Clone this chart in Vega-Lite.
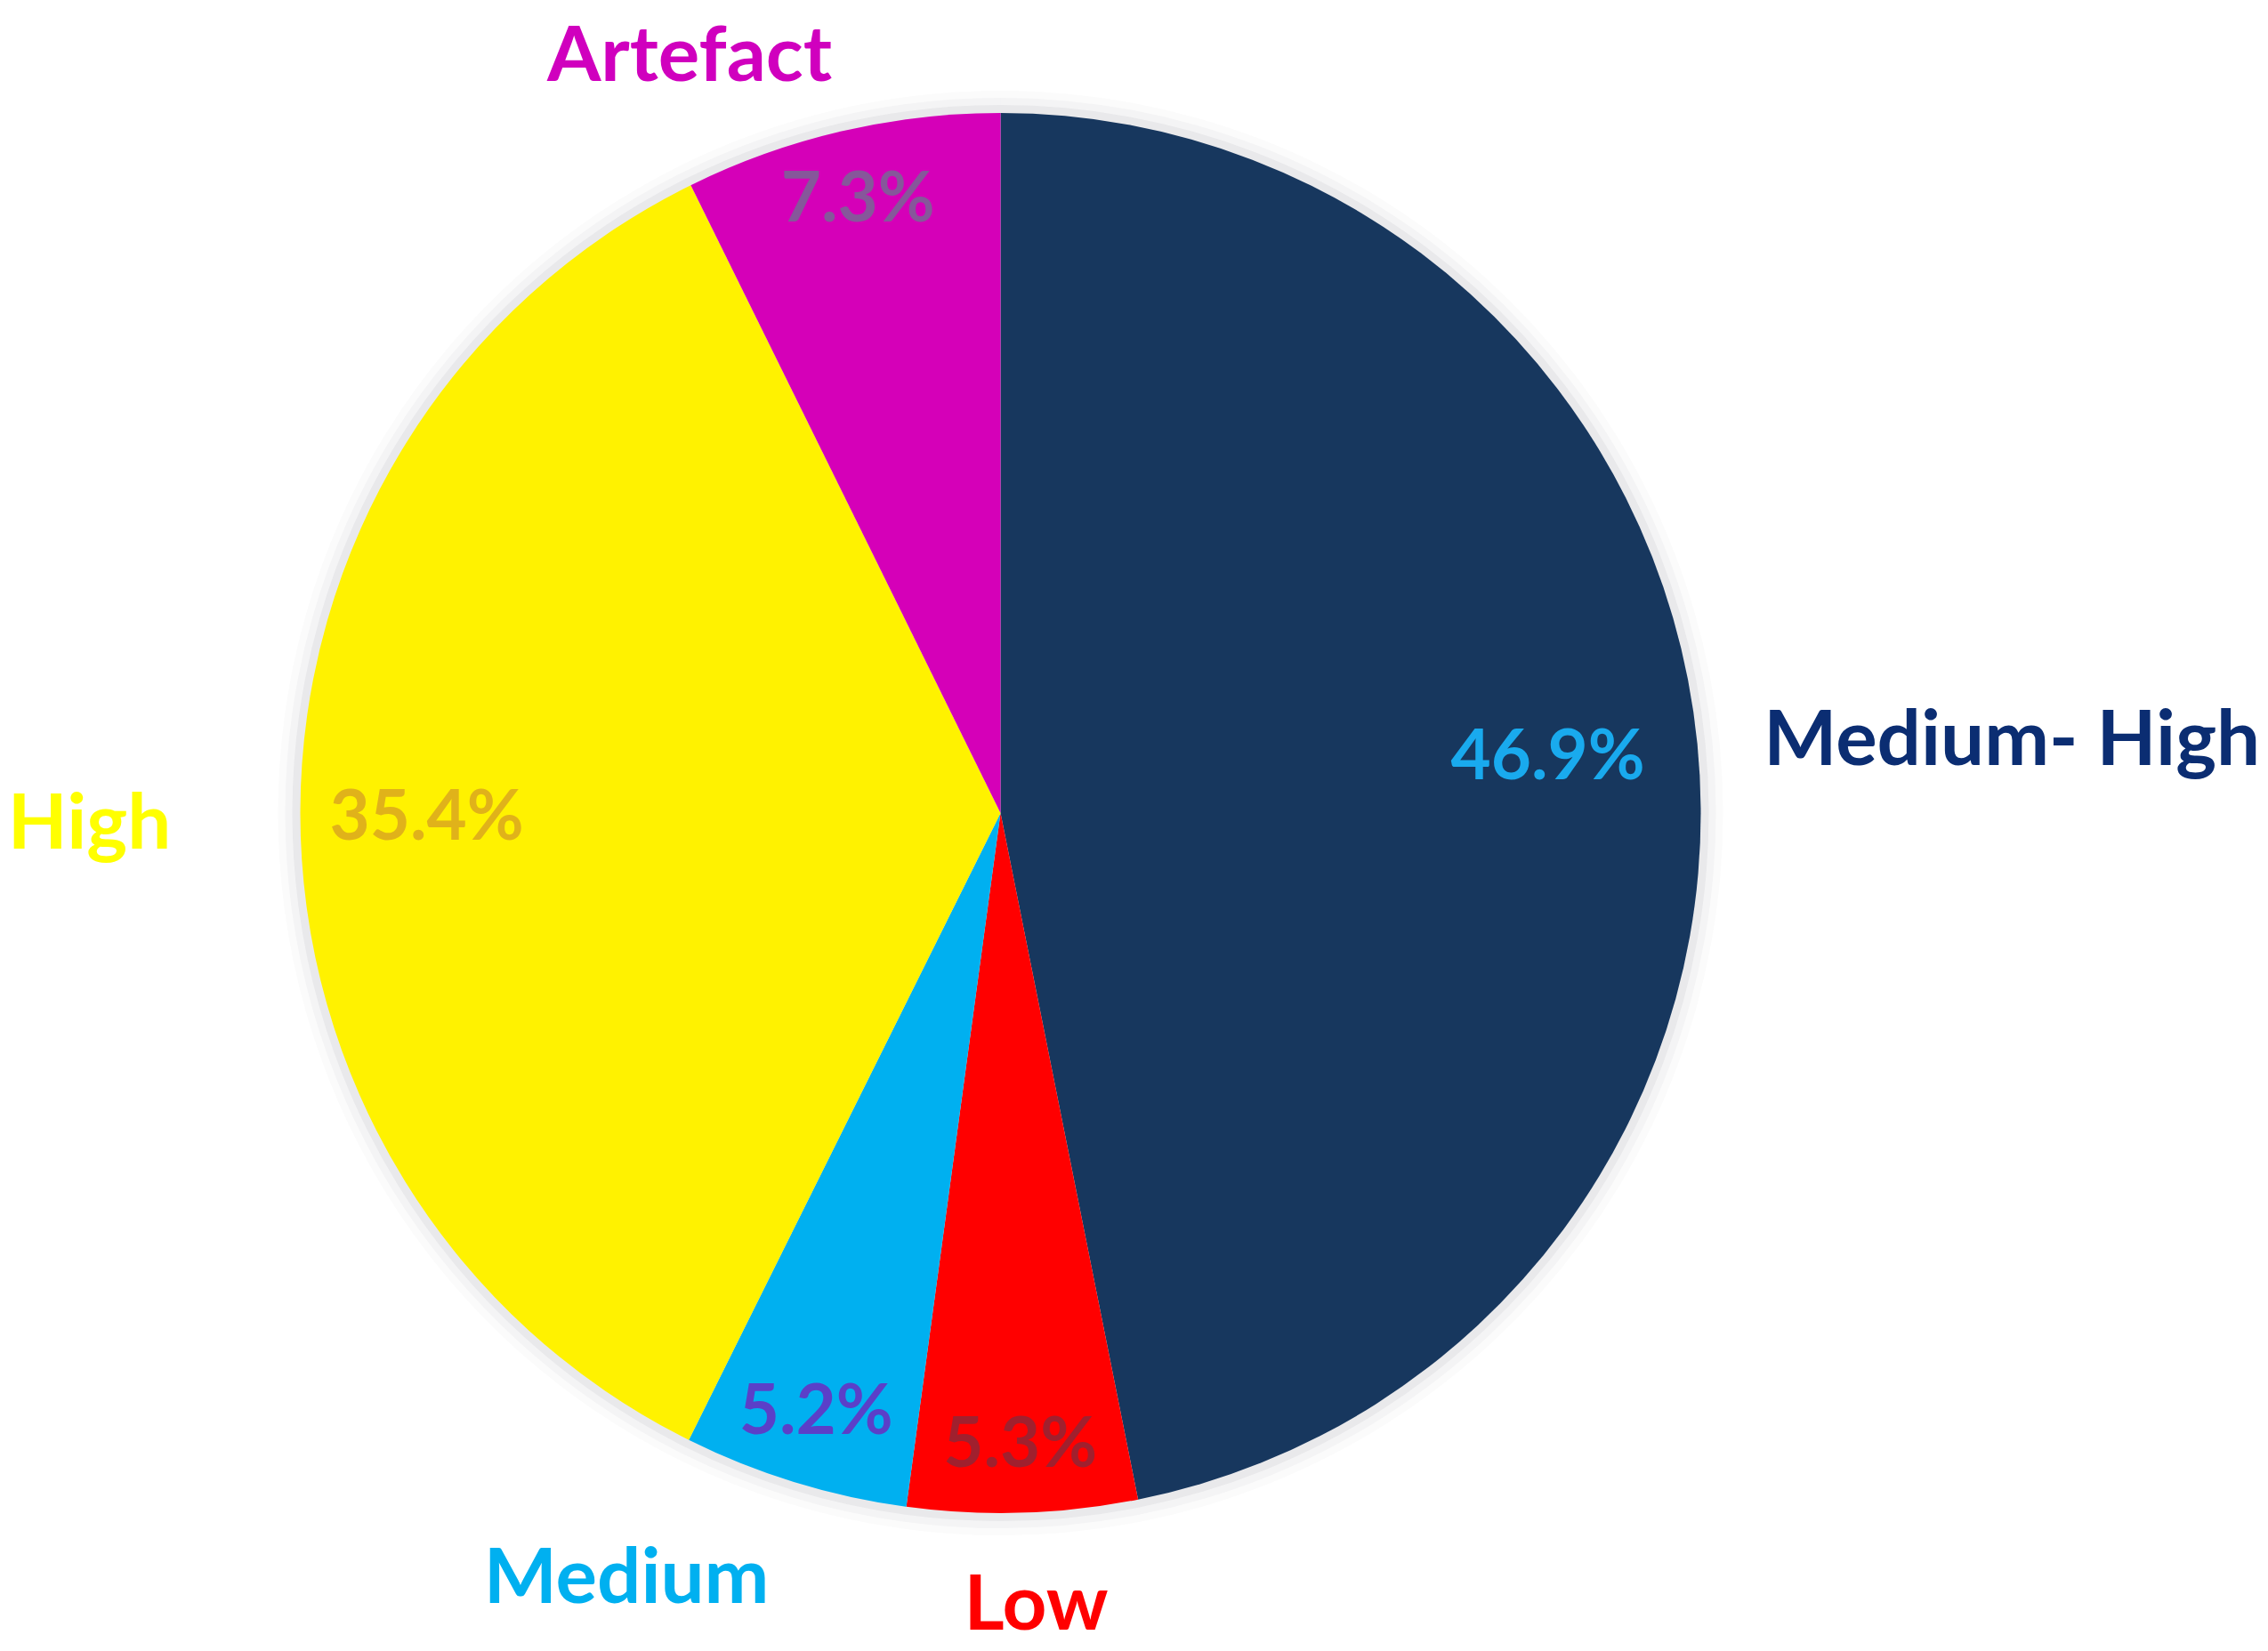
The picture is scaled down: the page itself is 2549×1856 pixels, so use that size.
{
  "$schema": "https://vega.github.io/schema/vega-lite/v6.json",
  "width": 2249,
  "height": 1828,
  "autosize": {"type": "none"},
  "padding": {"left": 0, "top": 0, "right": 300, "bottom": 28},
  "background": "white",
  "config": {"view": {"stroke": null}},
  "data": {
    "values": [
      {"category": "Medium- High", "share": 0.469, "rank": 1},
      {"category": "Low", "share": 0.053, "rank": 2},
      {"category": "Medium", "share": 0.052, "rank": 3},
      {"category": "High", "share": 0.354, "rank": 4},
      {"category": "Artefact", "share": 0.073, "rank": 5}
    ]
  },
  "encoding": {
    "theta": {"field": "share", "type": "quantitative", "stack": true},
    "order": {"field": "rank", "type": "quantitative"}
  },
  "layer": [
    {"mark": {"type": "arc", "radius": 812, "color": "#202040", "opacity": 0.02}},
    {"mark": {"type": "arc", "radius": 804, "color": "#202040", "opacity": 0.03}},
    {"mark": {"type": "arc", "radius": 796, "color": "#202040", "opacity": 0.05}},
    {
      "mark": {"type": "arc", "radius": 787},
      "encoding": {
        "color": {
          "field": "category", "type": "nominal", "legend": null,
          "scale": {
            "domain": ["Medium- High", "Low", "Medium", "High", "Artefact"],
            "range": ["#17375E", "#FF0000", "#00B0F0", "#FFF200", "#D500B8"]
          }
        }
      }
    },
    {
      "mark": {
        "type": "text", "font": "Lato", "fontWeight": "bold", "fontSize": 78,
        "align": "center", "baseline": "middle",
        "radius": {"expr": "datum.category === 'Medium- High' ? 618 : datum.category === 'High' ? 645 : 706"},
        "dy": {"expr": "datum.category === 'High' ? 8 : datum.category === 'Low' ? 6 : 0"}
      },
      "encoding": {
        "text": {"field": "share", "type": "quantitative", "format": ".1%"},
        "color": {
          "field": "category", "type": "nominal", "legend": null,
          "scale": {
            "domain": ["Medium- High", "Low", "Medium", "High", "Artefact"],
            "range": ["#19AAEE", "#A0202E", "#5B3FC8", "#E0B21A", "#86579A"]
          }
        }
      }
    },
    {
      "mark": {
        "type": "text", "font": "Lato", "fontWeight": "bold", "fontSize": 87,
        "baseline": "middle",
        "align": {"expr": "datum.category === 'Medium- High' ? 'left' : 'center'"},
        "radius": {"expr": "datum.category === 'Medium- High' ? 862 : datum.category === 'Low' ? 895 : datum.category === 'High' ? 1024 : datum.category === 'Medium' ? 958 : 931"},
        "dx": {"expr": "datum.category === 'Medium' ? -139 : datum.category === 'Artefact' ? -138 : datum.category === 'Low' ? 12 : 0"},
        "dy": {"expr": "datum.category === 'Medium' ? -54 : datum.category === 'Artefact' ? 58 : datum.category === 'High' ? 16 : datum.category === 'Low' ? -3 : 5"}
      },
      "encoding": {
        "text": {"field": "category", "type": "nominal"},
        "color": {
          "field": "category", "type": "nominal", "legend": null,
          "scale": {
            "domain": ["Medium- High", "Low", "Medium", "High", "Artefact"],
            "range": ["#0B2D72", "#FF0000", "#00B0F0", "#FFFF00", "#D000BE"]
          }
        }
      }
    }
  ],
  "resolve": {"scale": {"color": "independent"}}
}
